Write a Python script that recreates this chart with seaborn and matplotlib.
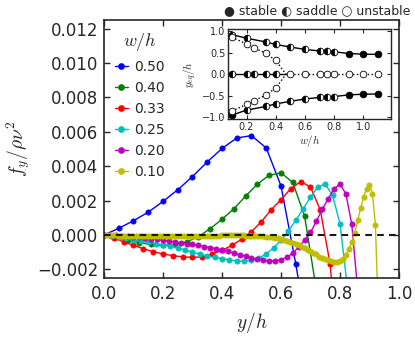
import pandas as pd
import seaborn as sns
import matplotlib
matplotlib.use("Agg")
import matplotlib.pyplot as plt
from matplotlib.lines import Line2D

# ---- main panel: lateral force f_y/(rho nu^2) across the channel, one curve per w/h ----
wh_labels = ["0.50", "0.40", "0.33", "0.25", "0.20", "0.10"]
line_colors = ["#0000ff", "#008000", "#ff0000", "#00bfbf", "#bf00bf", "#bfbf00"]

yh_050 = [0.00, 0.05, 0.10, 0.15, 0.20, 0.25, 0.30, 0.35, 0.40, 0.45, 0.50, 0.55, 0.60, 0.65, 0.70]
f_050 = [0.0, 0.00039, 0.00083, 0.00133, 0.00195, 0.00263, 0.0034, 0.00425, 0.00503, 0.00564,
         0.00578, 0.00506, 0.00286, -0.00168, -0.0067]

yh_040 = [0.00, 0.04, 0.08, 0.12, 0.16, 0.20, 0.24, 0.28, 0.32, 0.36, 0.40, 0.44, 0.48, 0.52,
          0.56, 0.60, 0.64, 0.68, 0.72]
f_040 = [0.0, -0.00012, -0.00028, -0.00045, -0.00055, -0.0006, -0.00055, -0.0004, -0.0001,
         0.00037, 0.00091, 0.00152, 0.00226, 0.00296, 0.00348, 0.00361, 0.00306, 0.0011, -0.0032]

yh_033 = [0.0, 0.0333, 0.0667, 0.1, 0.1333, 0.1667, 0.2, 0.2333, 0.2667, 0.3, 0.3333, 0.3667,
          0.4, 0.4333, 0.4667, 0.5, 0.5333, 0.5667, 0.6, 0.6333, 0.6667, 0.7, 0.7333, 0.7667, 0.8]
f_033 = [0.0, -0.00018, -0.0004, -0.0006, -0.0008, -0.00097, -0.0011, -0.0012, -0.00127, -0.0013,
         -0.00127, -0.0011, -0.0009, -0.0006, -0.00025, 0.0002, 0.00077, 0.00147, 0.00205, 0.0027,
         0.0031, 0.0028, 0.00145, -0.0017, -0.0085]

yh_025 = [0.0, 0.025, 0.05, 0.075, 0.1, 0.125, 0.15, 0.175, 0.2, 0.225, 0.25, 0.275, 0.3, 0.325,
          0.35, 0.375, 0.4, 0.425, 0.45, 0.475, 0.5, 0.525, 0.55, 0.575, 0.6, 0.625, 0.65, 0.675,
          0.7, 0.725, 0.75, 0.775, 0.8, 0.825]
f_025 = [0.0, -0.00005, -0.00012, -0.0002, -0.00028, -0.00035, -0.00042, -0.0005, -0.00058,
         -0.00066, -0.00075, -0.00087, -0.001, -0.00112, -0.00122, -0.0013, -0.00138, -0.00145,
         -0.0015, -0.00152, -0.00148, -0.00135, -0.0011, -0.00075, -0.0003, 0.00023, 0.00085,
         0.00152, 0.0022, 0.0028, 0.00296, 0.0023, 0.00065, -0.003]

yh_020 = [0.00, 0.02, 0.04, 0.06, 0.08, 0.10, 0.12, 0.14, 0.16, 0.18, 0.20, 0.22, 0.24, 0.26,
          0.28, 0.30, 0.32, 0.34, 0.36, 0.38, 0.40, 0.42, 0.44, 0.46, 0.48, 0.50, 0.52, 0.54,
          0.56, 0.58, 0.60, 0.62, 0.64, 0.66, 0.68, 0.70, 0.72, 0.74, 0.76, 0.78, 0.80, 0.82,
          0.84, 0.86]
f_020 = [0.0, -0.00001, -0.00002, -0.00004, -0.00007, -0.0001, -0.00014, -0.00018, -0.00022,
         -0.00026, -0.0003, -0.00035, -0.0004, -0.00045, -0.0005, -0.00055, -0.00061, -0.00067,
         -0.00073, -0.0008, -0.00087, -0.00095, -0.00105, -0.00115, -0.00124, -0.00133, -0.0014,
         -0.00146, -0.0015, -0.0015, -0.00145, -0.0013, -0.00105, -0.0007, -0.0003, 0.00015,
         0.0008, 0.0015, 0.0021, 0.0027, 0.00295, 0.0024, 0.00062, -0.0032]

yh_010 = [0.00, 0.01, 0.02, 0.03, 0.04, 0.05, 0.06, 0.07, 0.08, 0.09,
          0.10, 0.11, 0.12, 0.13, 0.14, 0.15, 0.16, 0.17, 0.18, 0.19,
          0.20, 0.21, 0.22, 0.23, 0.24, 0.25, 0.26, 0.27, 0.28, 0.29,
          0.30, 0.31, 0.32, 0.33, 0.34, 0.35, 0.36, 0.37, 0.38, 0.39,
          0.40, 0.41, 0.42, 0.43, 0.44, 0.45, 0.46, 0.47, 0.48, 0.49,
          0.50, 0.51, 0.52, 0.53, 0.54, 0.55, 0.56, 0.57, 0.58, 0.59,
          0.60, 0.61, 0.62, 0.63, 0.64, 0.65, 0.66, 0.67, 0.68, 0.69,
          0.70, 0.71, 0.72, 0.73, 0.74, 0.75, 0.76, 0.77, 0.78, 0.79,
          0.80, 0.81, 0.82, 0.83, 0.84, 0.85, 0.86, 0.87, 0.88, 0.89,
          0.90, 0.91, 0.92, 0.93]
f_010 = [0.0, -0.00001, -0.00001, -0.00002, -0.00002, -0.00003, -0.00003, -0.00003, -0.00004, -0.00004,
         -0.00004, -0.00004, -0.00004, -0.00004, -0.00004, -0.00004, -0.00004, -0.00004, -0.00004, -0.00004,
         -0.00004, -0.00004, -0.00004, -0.00004, -0.00004, -0.00004, -0.00004, -0.00003, -0.00003, -0.00003,
         -0.00003, -0.00003, -0.00003, -0.00003, -0.00003, -0.00003, -0.00003, -0.00003, -0.00003, -0.00003,
         -0.00002, -0.00002, -0.00002, -0.00002, -0.00002, -0.00002, -0.00002, -0.00002, -0.00003, -0.00003,
         -0.00003, -0.00004, -0.00005, -0.00006, -0.00007, -0.00009, -0.00011, -0.00013, -0.00016, -0.0002,
         -0.00024, -0.00029, -0.00034, -0.0004, -0.00046, -0.00053, -0.0006, -0.00068, -0.00076, -0.00085,
         -0.00094, -0.00103, -0.00112, -0.00125, -0.00134, -0.00141, -0.00147, -0.00152, -0.00155, -0.00155,
         -0.0015, -0.0014, -0.00117, -0.00082, -0.0004, 0.0001, 0.00085, 0.00155, 0.0022, 0.0027,
         0.0029, 0.0024, 0.0006, -0.0045]

# ---- inset: equilibrium positions y_eq/h against w/h ----
w_side = [0.1, 0.2, 0.33, 0.4, 0.5, 0.6, 0.7, 0.75, 0.8, 0.9, 1.0, 1.1]
yeq_top = [0.92, 0.835, 0.75, 0.69, 0.63, 0.575, 0.54, 0.53, 0.52, 0.48, 0.465, 0.46]
yeq_bot = [-0.95, -0.835, -0.75, -0.69, -0.63, -0.575, -0.54, -0.53, -0.52, -0.48, -0.465, -0.46]
state_top = ["saddle"] * 9 + ["stable"] * 3
state_bot = ["stable"] + ["saddle"] * 8 + ["stable"] * 3

w_mid = [0.1, 0.2, 0.25, 0.33, 0.4, 0.5, 0.6, 0.7, 0.75, 0.8, 0.9, 1.0, 1.1]
yeq_mid = [0.0] * 13
state_mid = ["saddle"] * 5 + ["unstable"] * 8

w_unst = [0.1, 0.2, 0.25, 0.33, 0.4]
yeq_unst = [0.86, 0.70, 0.615, 0.49, 0.32]
w_bif = 0.47

frames = []
for lab, xs, fs in zip(wh_labels, [yh_050, yh_040, yh_033, yh_025, yh_020, yh_010],
                       [f_050, f_040, f_033, f_025, f_020, f_010]):
    frames.append(pd.DataFrame({"yh": xs, "f": fs, "wh": lab}))
df = pd.concat(frames, ignore_index=True)

sns.set_style("ticks")
plt.rcParams["mathtext.fontset"] = "cm"
plt.rcParams["font.family"] = ["DejaVu Sans"]

fig = plt.figure(figsize=(4.15, 3.38), dpi=100)
ax = fig.add_axes([0.2506, 0.1775, 0.7108, 0.7633])

sns.lineplot(data=df, x="yh", y="f", hue="wh", hue_order=wh_labels, palette=line_colors,
             marker="o", markersize=3.8, markeredgewidth=0.5, markeredgecolor="auto",
             linewidth=1.0, estimator=None, sort=False, legend=False, ax=ax)
ax.axhline(0, color="0.1", ls=(0, (3.2, 2.5)), lw=1.5, zorder=5)

ax.set_xlim(0, 1.0)
ax.set_ylim(-0.0025, 0.0125)
ax.set_xticks([0.0, 0.2, 0.4, 0.6, 0.8, 1.0])
ax.set_yticks([-0.002, 0.0, 0.002, 0.004, 0.006, 0.008, 0.010, 0.012])
ax.tick_params(direction="in", top=True, right=True, length=4.5, width=1, labelsize=12)
ax.tick_params(axis="x", pad=5)
ax.tick_params(axis="y", pad=4)
for sp in ax.spines.values():
    sp.set_linewidth(1.2)
ax.set_xlabel("$y/h$", fontsize=14, labelpad=5)
ax.set_ylabel(r"$f_y/\rho\nu^2$", fontsize=14, labelpad=4)

handles = [Line2D([], [], color=c, marker="o", markersize=3.8, markeredgecolor=c, lw=1.0)
           for c in line_colors]
ax.legend(handles, wh_labels, title="$w/h$", loc="upper left", frameon=False, fontsize=10,
          title_fontsize=13, handlelength=0.9, handletextpad=0.5, labelspacing=0.5,
          borderaxespad=0.4)

# inset
axin = fig.add_axes([0.550, 0.648, 0.391, 0.265])


def draw_states(a, xs, ys, states):
    style = {"stable": dict(fillstyle="full", markerfacecolor="k"),
             "saddle": dict(fillstyle="left", markerfacecolor="k", markerfacecoloralt="w"),
             "unstable": dict(fillstyle="full", markerfacecolor="w")}
    for x, y, s in zip(xs, ys, states):
        a.plot([x], [y], marker="o", ls="none", markersize=4.8, markeredgecolor="k",
               markeredgewidth=0.6, zorder=4, **style[s])


axin.plot(w_side, yeq_top, color="k", lw=1.0)
axin.plot(w_side, yeq_bot, color="k", lw=1.0)
axin.plot(w_mid[:6], yeq_mid[:6], color="k", lw=1.0)
axin.plot(w_mid[5:], yeq_mid[5:], color="k", lw=1.0, ls=":")
axin.plot(w_unst + [w_bif], yeq_unst + [0.0], color="k", lw=1.0, ls=":")
axin.plot(w_unst + [w_bif], [-v for v in yeq_unst] + [0.0], color="k", lw=1.0, ls=":")
draw_states(axin, w_side, yeq_top, state_top)
draw_states(axin, w_side, yeq_bot, state_bot)
draw_states(axin, w_mid, yeq_mid, state_mid)
draw_states(axin, w_unst, yeq_unst, ["unstable"] * 5)
draw_states(axin, w_unst, [-v for v in yeq_unst], ["unstable"] * 5)

axin.set_xlim(0.075, 1.185)
axin.set_ylim(-1.04, 1.04)
axin.set_xticks([0.2, 0.4, 0.6, 0.8, 1.0])
axin.set_yticks([-1.0, -0.5, 0.0, 0.5, 1.0])
axin.tick_params(direction="in", top=True, right=True, length=3, width=0.8, labelsize=7, pad=2)
for sp in axin.spines.values():
    sp.set_linewidth(1.0)
axin.set_xlabel("$w/h$", fontsize=8, labelpad=1)
axin.set_ylabel("$y_{eq}/h$", fontsize=8, labelpad=2)

fig.text(0.765, 0.97, "\u25cf stable \u25d0 saddle \u25cb unstable", ha="center", va="center",
         fontsize=9)

fig.savefig("out.png", dpi=100)
